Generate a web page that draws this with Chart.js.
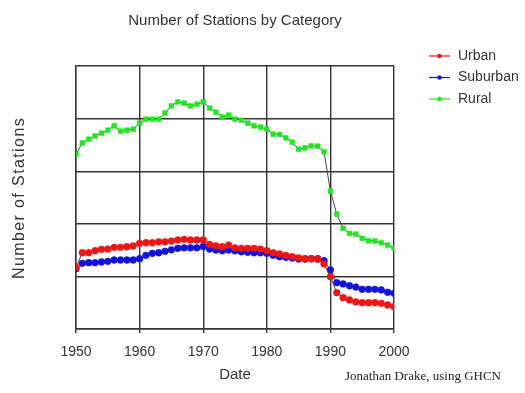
<!DOCTYPE html>
<html>
<head>
<meta charset="utf-8">
<script src="https://cdn.jsdelivr.net/npm/chart.js@4/dist/chart.umd.min.js"></script>
<style>
    html, body { margin: 0; padding: 0; background: #fff; }
    #wrap { width: 525px; height: 393px; position: relative; }
</style>
</head>
<body>
<div id="wrap"><canvas id="stations-chart" width="525" height="393"></canvas></div>
<script>
const years = [];
for (let y = 1950; y <= 2000; y++) years.push(y);

const urban = [586, 725, 725, 744, 757, 760, 776, 776, 782, 789,
    814, 820, 820, 829, 829, 836, 846, 852, 846, 846,
    846, 805, 789, 782, 798, 772, 767, 767, 767, 760,
    744, 725, 713, 700, 687, 677, 668, 668, 662, 618,
    497, 345, 298, 276, 257, 250, 250, 250, 244, 228, 212];

const suburban = [573, 624, 630, 630, 637, 643, 656, 656, 656, 656,
    668, 700, 719, 725, 738, 753, 767, 772, 772, 772,
    784, 760, 750, 744, 750, 744, 734, 729, 725, 725,
    719, 700, 687, 681, 675, 665, 665, 668, 668, 649,
    561, 440, 428, 411, 399, 377, 377, 377, 371, 349, 339];

const rural = [1663, 1770, 1805, 1834, 1862, 1890, 1931, 1881, 1890, 1900,
    1957, 1995, 1995, 1995, 2052, 2121, 2159, 2147, 2121, 2137,
    2159, 2100, 2061, 2017, 2033, 1995, 1985, 1957, 1931, 1919,
    1900, 1852, 1850, 1817, 1776, 1710, 1722, 1741, 1738, 1684,
    1311, 1092, 957, 909, 902, 862, 839, 836, 820, 798, 767];

const xTicks = [1950, 1960, 1970, 1980, 1990, 2000];

const series = [
    { label: 'Urban', values: urban, color: '#ee1515', style: 'circle' },
    { label: 'Suburban', values: suburban, color: '#1212d8', style: 'circle' },
    { label: 'Rural', values: rural, color: '#1ee81e', style: 'rect' }
];

const textColor = '#333';
const sans = '"Liberation Sans", Arial, sans-serif';

// Titles, axis names, legend and credit line
const decorPlugin = {
    id: 'decor',
    afterDraw(chart) {
        const ctx = chart.ctx;
        ctx.save();
        ctx.fillStyle = textColor;
        ctx.textAlign = 'center';
        ctx.textBaseline = 'middle';

        ctx.font = '15px ' + sans;
        ctx.fillText('Number of Stations by Category', 235, 21);

        ctx.fillText('Date', 235, 375);

        ctx.save();
        ctx.translate(20, 198);
        ctx.rotate(-Math.PI / 2);
        ctx.font = '16px ' + sans;
        ctx.letterSpacing = '1.4px';
        ctx.fillText('Number of Stations', 0, 0);
        ctx.restore();

        // legend
        ctx.textAlign = 'left';
        ctx.font = '14px ' + sans;
        series.forEach((s, i) => {
            const y = 56 + i * 21.5;
            ctx.strokeStyle = s.color;
            ctx.lineWidth = 1.2;
            ctx.beginPath();
            ctx.moveTo(429, y);
            ctx.lineTo(450, y);
            ctx.stroke();
            ctx.fillStyle = s.color;
            ctx.beginPath();
            ctx.arc(439.5, y, 2.2, 0, Math.PI * 2);
            ctx.fill();
            ctx.fillStyle = textColor;
            ctx.fillText(s.label, 458, y);
        });

        ctx.font = '13px "Liberation Serif", "DejaVu Serif", serif';
        ctx.fillStyle = '#222';
        ctx.fillText('Jonathan Drake, using GHCN', 345, 377);
        ctx.restore();
    }
};

new Chart(document.getElementById('stations-chart').getContext('2d'), {
    type: 'line',
    data: {
        datasets: series.map(s => ({
            label: s.label,
            data: s.values.map((v, i) => ({ x: years[i], y: v })),
            borderColor: '#444',
            borderWidth: 1,
            pointStyle: s.style,
            pointRadius: 3.4,
            pointBackgroundColor: s.color,
            pointBorderColor: s.color,
            pointBorderWidth: 0.5,
            tension: 0
        }))
    },
    options: {
        responsive: false,
        animation: false,
        layout: { padding: { left: 76, top: 66, right: 131, bottom: 24 } },
        plugins: {
            legend: { display: false },
            tooltip: { enabled: false }
        },
        scales: {
            x: {
                type: 'linear',
                min: 1950,
                max: 2000,
                afterBuildTicks(axis) {
                    axis.ticks = xTicks.map(v => ({ value: v }));
                },
                afterFit(axis) {
                    axis.height = 40;
                },
                grid: { color: '#333', lineWidth: 1.4, tickLength: 4 },
                border: { color: '#333', width: 1.4 },
                ticks: {
                    color: textColor,
                    font: { family: sans, size: 14 },
                    padding: 11,
                    maxRotation: 0,
                    callback: v => String(v)
                }
            },
            y: {
                min: 0,
                max: 2500,
                afterFit(axis) {
                    axis.width = 0;
                },
                ticks: { display: false, stepSize: 500 },
                grid: { color: '#333', lineWidth: 1.4, tickLength: 0 },
                border: { color: '#333', width: 1.4 }
            }
        }
    },
    plugins: [decorPlugin]
});
</script>
</body>
</html>
